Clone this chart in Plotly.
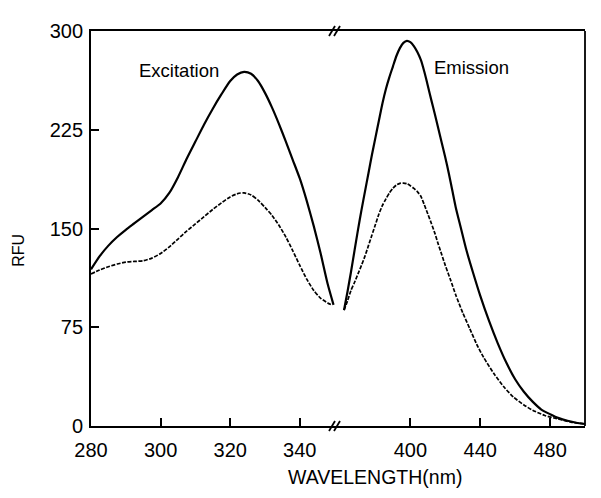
import plotly.graph_objects as go

# Excitation (left panel, nm)
ex_x_solid = [280, 282.5, 285, 287.5, 290, 292.5, 295, 297.5, 300, 302.5, 305, 307.5, 310, 312.5,
              315, 317.5, 320, 322, 324, 326, 328, 330, 332, 334, 336, 338, 340, 342, 344, 346,
              348, 349.7]
ex_solid = [119, 129, 137, 143.5, 149, 154, 159, 164, 169, 177, 189, 203, 216, 229,
            241, 252, 262, 267, 269, 267.5, 262, 253, 242, 229.5, 216, 202, 188, 171, 152, 131,
            108, 92]
ex_x_dash = [280, 282.5, 285, 287.5, 290, 292.5, 295, 297.5, 300, 302.5, 305, 307.5, 310, 312.5,
             315, 317.5, 320, 322.5, 324, 326, 328, 330, 332, 334, 336, 338, 340, 342, 344, 346,
             348, 349.2]
ex_dash = [115.5, 118.5, 121, 123, 124.5, 125, 125.5, 127.5, 131, 136, 142, 148, 153.5, 159,
           164.5, 169.5, 174, 176.8, 177, 175.5, 171.5, 166, 160, 152.5, 143.5, 133, 122, 111.5,
           103, 97, 93.5, 92]

# Emission (right panel, nm)
em_x_solid = [362, 364, 366, 368, 370, 372, 374, 376, 378, 380, 382, 384, 386, 388, 390, 392, 394,
              396, 398, 400, 402, 404, 406, 408, 410, 412, 414, 416, 418, 420, 422, 424, 426, 429,
              432, 436, 440, 445, 450, 455, 460, 465, 470, 475, 480, 485, 490, 495, 500]
em_solid = [88, 102, 117, 133, 149, 164, 178, 192, 206, 219, 232, 245, 256, 265, 273, 281, 287,
            291, 292.5, 291.5, 288.5, 284, 278, 269, 258.5, 247.5, 237, 226, 215, 204, 192, 179,
            166, 150, 134, 116, 99, 80, 63, 48, 35.5, 26, 18.5, 12.5, 9, 6, 4, 2.5, 1.5]
em_x_dash = [362, 364, 366, 368, 370, 372, 374, 376, 378, 380, 382, 384, 386, 388, 390, 392, 394,
             396, 398, 400, 402, 404, 406, 408, 410, 412, 414, 416, 418, 420, 423, 426, 430, 434,
             438, 442, 448, 454, 459, 465, 470, 477, 484, 492, 500]
em_dash = [88, 95, 103, 109, 115.5, 122, 129, 137, 145, 153, 161, 167.5, 172.5, 177, 180.5, 183,
           184.3, 184.5, 184, 182.5, 180.5, 178, 174.5, 168, 161, 154, 146.5, 138, 130, 122, 111,
           99.5, 86, 74, 62, 52, 39.5, 29, 22, 16, 12, 8, 5.5, 3, 1.5]

left_ticks = [280, 300, 320, 340]
right_ticks = [400, 440, 480]
y_ticks = [0, 75, 150, 225, 300]

FONT = "Liberation Sans, Arial, sans-serif"
BREAK = 0.498

fig = go.Figure()
solid = dict(color="black", width=2.2, shape="spline", smoothing=0.6)
dashed = dict(color="black", width=1.7, dash="4px,1.5px", shape="spline", smoothing=0.6)

fig.add_trace(go.Scatter(x=ex_x_solid, y=ex_solid, mode="lines", line=solid, xaxis="x", yaxis="y"))
fig.add_trace(go.Scatter(x=ex_x_dash, y=ex_dash, mode="lines", line=dashed, xaxis="x", yaxis="y"))
fig.add_trace(go.Scatter(x=em_x_solid, y=em_solid, mode="lines", line=solid, xaxis="x2", yaxis="y"))
fig.add_trace(go.Scatter(x=em_x_dash, y=em_dash, mode="lines", line=dashed, xaxis="x2", yaxis="y"))

axis_common = dict(ticks="inside", ticklen=8, tickwidth=1.8, tickcolor="black",
                   showline=True, linewidth=1.8, linecolor="black", showgrid=False,
                   zeroline=False, tickfont=dict(size=20, color="black", family=FONT))

fig.update_layout(
    width=593, height=490,
    margin=dict(l=83, r=16, t=17, b=72),
    paper_bgcolor="white", plot_bgcolor="white",
    showlegend=False,
    font=dict(family=FONT, color="black"),
    xaxis=dict(domain=[0, BREAK], range=[280, 350.7], tickvals=left_ticks, mirror=True,
               anchor="y", ticklabelstandoff=5, **axis_common),
    xaxis2=dict(domain=[BREAK, 1], range=[358, 500], tickvals=right_ticks, mirror=True,
                anchor="y", ticklabelstandoff=5, **axis_common),
    yaxis=dict(range=[0, 300], tickvals=y_ticks, anchor="x", ticklabelstandoff=2, **axis_common),
)

shapes = [dict(type="line", xref="paper", yref="paper", x0=1, x1=1, y0=0, y1=1,
               line=dict(color="black", width=1.8))]
pw = 494
ph = 401
dx = 6 / pw
dy = 10 / ph
for yb in (0, 1):
    for off in (-5 / pw, 0):
        x0 = BREAK + off - dx / 2
        shapes.append(dict(type="line", xref="paper", yref="paper",
                           x0=x0, x1=x0 + dx, y0=yb - dy / 2, y1=yb + dy / 2,
                           line=dict(color="black", width=1.8)))
fig.update_layout(shapes=shapes)

def label(text, x, y, size, angle=0):
    fig.add_annotation(text=text, xref="paper", yref="paper", x=x, y=y,
                       xanchor="center", yanchor="middle", textangle=angle,
                       showarrow=False, font=dict(size=size, family=FONT, color="black"))

label("Excitation", 0.179, 0.900, 18.5)
label("Emission", 0.771, 0.908, 18.5)
label("WAVELENGTH(nm)", 0.574, -0.130, 19.5)
label("RFU", -0.146, 0.446, 16, -90)

fig.write_html("out.html")
